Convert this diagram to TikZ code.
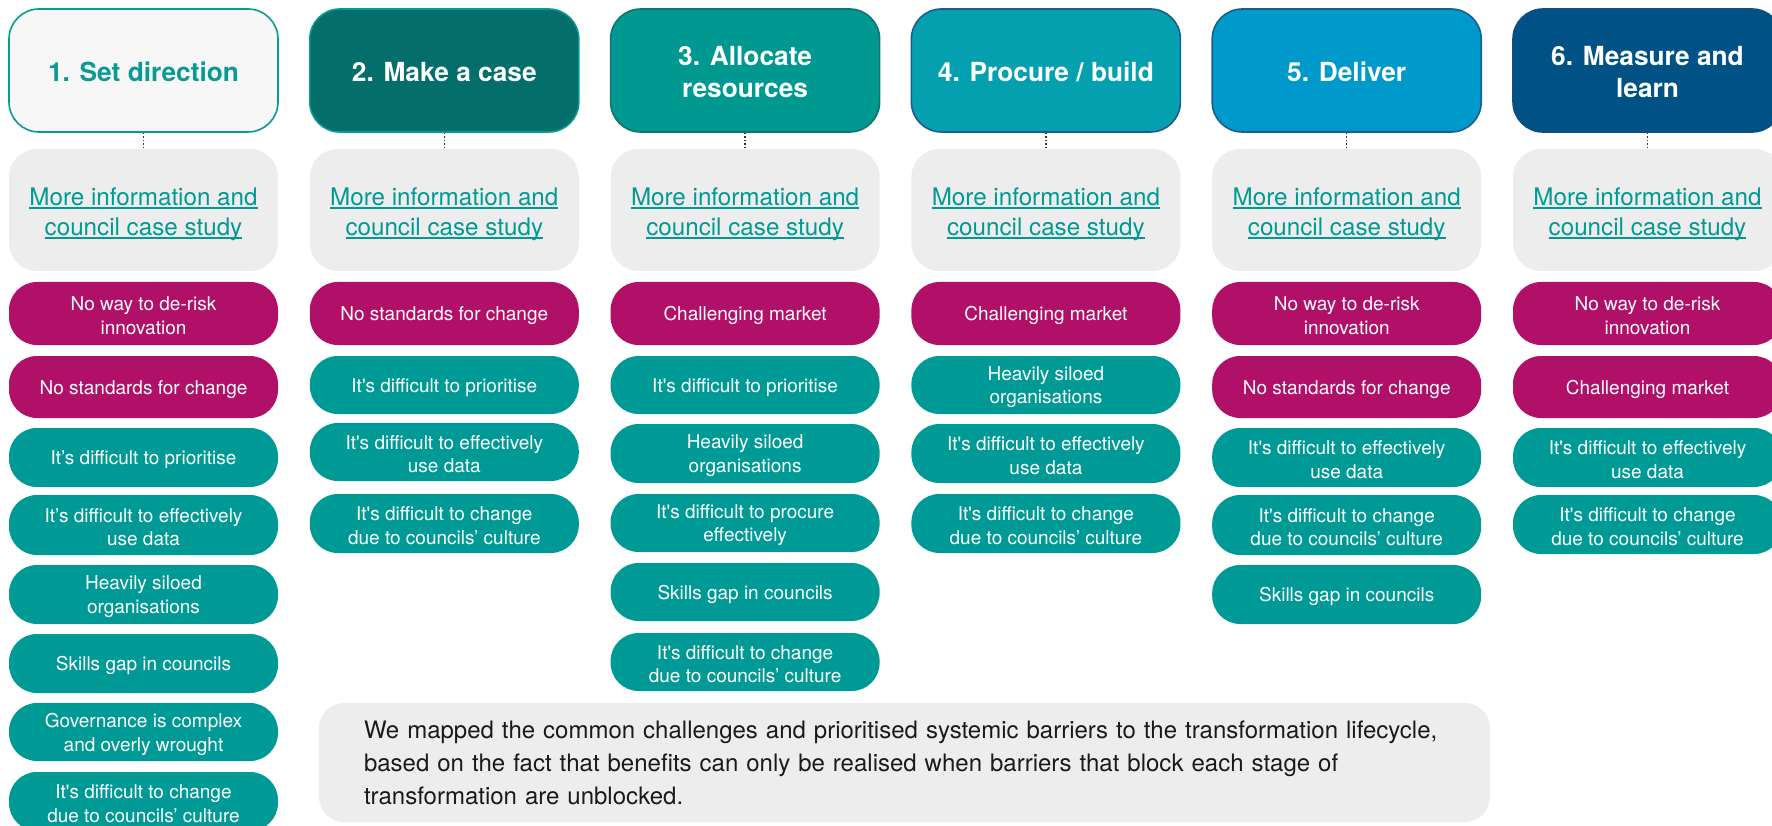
\documentclass[tikz,border=0pt]{standalone}
\usepackage{fontspec}
\setmainfont{TeX Gyre Heros}[Ligatures=TeXOff]
\definecolor{tealc}{HTML}{009A96}
\definecolor{magc}{HTML}{B01068}
\definecolor{linkc}{HTML}{009A94}
\definecolor{infog}{HTML}{EDEDED}
\definecolor{hAfill}{HTML}{F7F7F7}
\definecolor{hAdraw}{HTML}{0A9A96}
\definecolor{hBfill}{HTML}{046E6B}
\definecolor{hBdraw}{HTML}{0A9A96}
\definecolor{hCfill}{HTML}{009991}
\definecolor{hCdraw}{HTML}{0F7570}
\definecolor{hDfill}{HTML}{04A0B0}
\definecolor{hDdraw}{HTML}{1C5C93}
\definecolor{hEfill}{HTML}{0099CC}
\definecolor{hEdraw}{HTML}{1A5E8E}
\definecolor{hFfill}{HTML}{005286}
\definecolor{hFdraw}{HTML}{0C4F80}
\definecolor{sumtext}{HTML}{1A1A1A}
\newcommand\lnk[1]{\setbox0=\hbox{#1}\rlap{\color{linkc}\rule[-4pt]{\wd0}{1.8pt}}\box0}
\newcommand\mv[2]{\raisebox{-#1}[\height][\depth]{#2}}
\newcommand\pl[1]{\mv{2.3pt}{#1}}
\newcommand\hl[1]{\mv{1.7pt}{#1}}
\newcommand\il[1]{\mv{3.8pt}{\lnk{#1}}}
\newcommand\hdrfont{\fontsize{26.3}{32}\selectfont\bfseries}
\newcommand\infofont{\fontsize{24.2}{30}\selectfont}
\newcommand\pillfont{\fontsize{19}{23.5}\selectfont}
\newcommand\sumfont{\fontsize{24}{33}\selectfont}
\begin{document}
\begin{tikzpicture}[x=1pt,y=-1pt,
  hdr/.style={rounded corners=30pt, minimum width=269pt, minimum height=123pt, align=center, font=\hdrfont, line width=1.6pt, inner sep=0pt, text=white},
  info/.style={rounded corners=28pt, fill=infog, minimum width=269pt, minimum height=122pt, align=center, text=linkc, font=\infofont, inner sep=0pt},
  pill/.style={rounded corners=28pt, minimum width=269pt, align=center, text=white, font=\pillfont, inner sep=0pt},
  mpill/.style={pill, fill=magc},
  tpill/.style={pill, fill=tealc},
  link/.style={dotted, line width=1.5pt, black!80},
  sumbox/.style={rounded corners=25pt, fill=infog, minimum width=1171pt, minimum height=119pt, text width=1081pt, align=left, font=\sumfont, text=sumtext, inner xsep=45pt, inner ysep=0pt}
]
\useasboundingbox (0,0) rectangle (1772,826);
\clip (0,0) rectangle (1772,826);
\fill[white] (0,0) rectangle (1772,826);

% headers
\node[hdr, fill=hAfill, draw=hAdraw, text=hAdraw] (h1) at (143.5,70.5) {\hl{1. Set direction}};
\node[hdr, fill=hBfill, draw=hBdraw] (h2) at (444.3,70.5) {\hl{2. Make a case}};
\node[hdr, fill=hCfill, draw=hCdraw] (h3) at (745.1,70.5) {\hl{3. Allocate}\\\hl{resources}};
\node[hdr, fill=hDfill, draw=hDdraw] (h4) at (1045.9,70.5) {\hl{4. Procure / build}};
\node[hdr, fill=hEfill, draw=hEdraw] (h5) at (1346.7,70.5) {\hl{5. Deliver}};
\node[hdr, fill=hFfill, draw=hFdraw] (h6) at (1647.5,70.5) {\hl{6. Measure and}\\\hl{learn}};

% info boxes
\foreach \i/\x in {1/143.5,2/444.3,3/745.1,4/1045.9,5/1346.7,6/1647.5}{
  \node[info] (i\i) at (\x,210) {\il{More information and}\\\il{council case study}};
  \draw[link] (h\i.south) -- (i\i.north);
}

% column 1
\node[mpill, minimum height=63pt] (a1) at (143.5,313.5) {\pl{No way to de-risk}\\\pl{innovation}};
\node[mpill, minimum height=62pt] (a2) at (143.5,387) {\pl{No standards for change}};
\node[tpill, minimum height=59pt] (a3) at (143.5,457.5) {\pl{It’s difficult to prioritise}};
\node[tpill, minimum height=60pt] (a4) at (143.5,525) {\pl{It’s difficult to effectively}\\\pl{use data}};
\node[tpill, minimum height=59pt] (a5) at (143.5,594.5) {\pl{Heavily siloed}\\\pl{organisations}};
\node[tpill, minimum height=59pt] (a6) at (143.5,663.5) {\pl{Skills gap in councils}};
\node[tpill, minimum height=58pt] (a7) at (143.5,732) {\pl{Governance is complex}\\\pl{and overly wrought}};
\node[tpill, minimum height=59pt] (a8) at (143.5,801.5) {\pl{It's difficult to change}\\\pl{due to councils’ culture}};

% column 2
\node[mpill, minimum height=63pt] (b1) at (444.3,313.5) {\pl{No standards for change}};
\node[tpill, minimum height=58pt] (b2) at (444.3,385) {\pl{It's difficult to prioritise}};
\node[tpill, minimum height=58pt] (b3) at (444.3,452) {\pl{It's difficult to effectively}\\\pl{use data}};
\node[tpill, minimum height=59pt] (b4) at (444.3,523.5) {\pl{It's difficult to change}\\\pl{due to councils’ culture}};

% column 3
\node[mpill, minimum height=63pt] (c1) at (745.1,313.5) {\pl{Challenging market}};
\node[tpill, minimum height=58pt] (c2) at (745.1,385) {\pl{It's difficult to prioritise}};
\node[tpill, minimum height=59pt] (c3) at (745.1,453.5) {\pl{Heavily siloed}\\\pl{organisations}};
\node[tpill, minimum height=58pt] (c4) at (745.1,523) {\pl{It's difficult to procure}\\\pl{effectively}};
\node[tpill, minimum height=58pt] (c5) at (745.1,592) {\pl{Skills gap in councils}};
\node[tpill, minimum height=58pt] (c6) at (745.1,662) {\pl{It's difficult to change}\\\pl{due to councils’ culture}};

% column 4
\node[mpill, minimum height=63pt] (d1) at (1045.9,313.5) {\pl{Challenging market}};
\node[tpill, minimum height=58pt] (d2) at (1045.9,385) {\pl{Heavily siloed}\\\pl{organisations}};
\node[tpill, minimum height=59pt] (d3) at (1045.9,453.5) {\pl{It's difficult to effectively}\\\pl{use data}};
\node[tpill, minimum height=59pt] (d4) at (1045.9,523.5) {\pl{It's difficult to change}\\\pl{due to councils’ culture}};

% column 5
\node[mpill, minimum height=63pt] (e1) at (1346.7,313.5) {\pl{No way to de-risk}\\\pl{innovation}};
\node[mpill, minimum height=62pt] (e2) at (1346.7,387) {\pl{No standards for change}};
\node[tpill, minimum height=59pt] (e3) at (1346.7,457.5) {\pl{It's difficult to effectively}\\\pl{use data}};
\node[tpill, minimum height=60pt] (e4) at (1346.7,525) {\pl{It's difficult to change}\\\pl{due to councils’ culture}};
\node[tpill, minimum height=59pt] (e5) at (1346.7,594.5) {\pl{Skills gap in councils}};

% column 6
\node[mpill, minimum height=63pt] (f1) at (1647.5,313.5) {\pl{No way to de-risk}\\\pl{innovation}};
\node[mpill, minimum height=62pt] (f2) at (1647.5,387) {\pl{Challenging market}};
\node[tpill, minimum height=59pt] (f3) at (1647.5,457.5) {\pl{It's difficult to effectively}\\\pl{use data}};
\node[tpill, minimum height=59pt] (f4) at (1647.5,524.5) {\pl{It's difficult to change}\\\pl{due to councils’ culture}};

% summary
\node[sumbox] (s) at (904.5,762.5) {We mapped the common challenges and prioritised systemic barriers to the transformation lifecycle,\\based on the fact that benefits can only be realised when barriers that block each stage of\\transformation are unblocked.};
\end{tikzpicture}
\end{document}
